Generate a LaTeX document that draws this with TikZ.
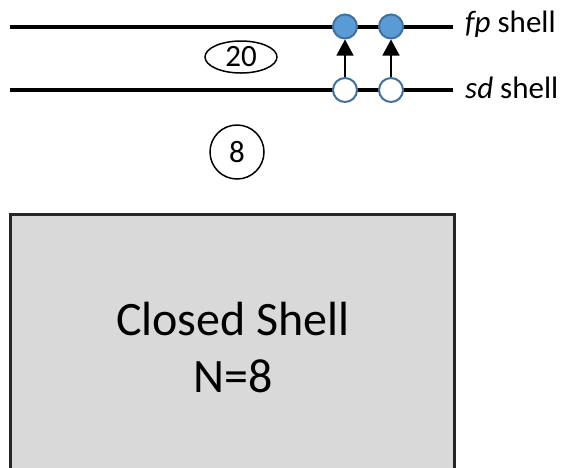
\documentclass[tikz,border=0pt]{standalone}
\usepackage{fontspec}
\setmainfont{Carlito}
\usetikzlibrary{shapes.geometric,arrows.meta}
\definecolor{orbfill}{RGB}{91,155,213}
\definecolor{orbline}{RGB}{65,113,156}
\definecolor{boxfill}{RGB}{217,217,217}
\definecolor{boxline}{RGB}{38,38,38}
\tikzset{
  level/.style={line width=4pt},
  full/.style={circle,draw=orbline,fill=orbfill,line width=2pt,minimum size=24pt,inner sep=0pt},
  empty/.style={circle,draw=orbline,fill=white,line width=2pt,minimum size=24pt,inner sep=0pt},
  lift/.style={line width=1.3pt,-{Triangle[width=17pt,length=16pt]}},
  magic/.style={draw,line width=1.5pt,inner sep=0pt,font=\fontsize{31}{36}\selectfont},
  shelltxt/.style={anchor=west,inner sep=0pt,font=\fontsize{31}{36}\selectfont}
}
\begin{document}
\begin{tikzpicture}[x=1pt,y=-1pt]
\useasboundingbox (0,0) rectangle (564,467);

%Shape: Rectangle
\node (core) [draw=boxline,fill=boxfill,line width=3pt,minimum width=444pt,minimum height=270pt,anchor=north west,inner sep=0pt] at (9,213) {};
% Text Node
\node (closed) [align=center,font=\fontsize{48}{57}\selectfont] at (233,347) {Closed Shell\\N=8};

%Straight Lines
\coordinate (fpL) at (10,26.5);
\coordinate (fpR) at (453,26.5);
\coordinate (sdL) at (10,90);
\coordinate (sdR) at (453,90);
\draw [level] (fpL) -- (fpR);
\draw [level] (sdL) -- (sdR);

%Shape: Circle
\node (fpA) [full] at (345,26.5) {};
\node (fpB) [full] at (391,26.5) {};
\node (sdA) [empty] at (345,90) {};
\node (sdB) [empty] at (391,90) {};

%Arrows
\draw [lift] (sdA) -- (fpA);
\draw [lift] (sdB) -- (fpB);

% Text Node
\node (fp) [shelltxt] at (465,24) {\textit{fp} shell};
% Text Node
\node (sd) [shelltxt] at (465,88) {\textit{sd} shell};

%Shape: Ellipse
\node (twenty) [magic,ellipse,minimum width=72pt,minimum height=32pt] at (241,57) {20};
%Shape: Circle
\node (eight) [magic,circle,minimum size=54pt] at (237,152) {8};

\end{tikzpicture}
\end{document}
